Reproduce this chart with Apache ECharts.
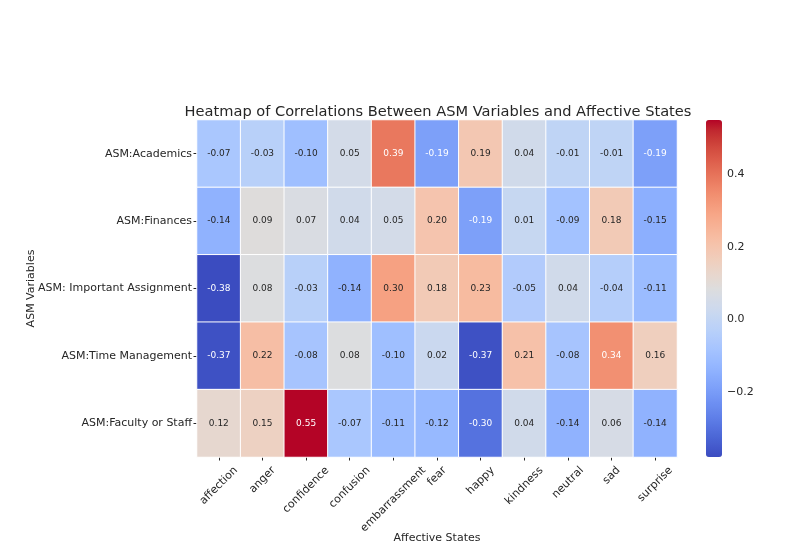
<!DOCTYPE html>
<html><head><meta charset="utf-8">
<script src="https://cdn.jsdelivr.net/npm/echarts@6/dist/echarts.min.js"></script>
<style>html,body{margin:0;padding:0;background:#fff}#c{width:789px;height:547px}</style>
</head><body><div id="c"></div>
<script>
const states = ['affection','anger','confidence','confusion','embarrassment','fear','happy','kindness','neutral','sad','surprise'];
const variables = ['ASM:Academics','ASM:Finances','ASM: Important Assignment','ASM:Time Management','ASM:Faculty or Staff'];
const academics  = [-0.07,-0.03,-0.10,0.05,0.39,-0.19,0.19,0.04,-0.01,-0.01,-0.19];
const finances   = [-0.14,0.09,0.07,0.04,0.05,0.20,-0.19,0.01,-0.09,0.18,-0.15];
const assignment = [-0.38,0.08,-0.03,-0.14,0.30,0.18,0.23,-0.05,0.04,-0.04,-0.11];
const timeMgmt   = [-0.37,0.22,-0.08,0.08,-0.10,0.02,-0.37,0.21,-0.08,0.34,0.16];
const faculty    = [0.12,0.15,0.55,-0.07,-0.11,-0.12,-0.30,0.04,-0.14,0.06,-0.14];
const colorbarTicks = [-0.2, 0.0, 0.2, 0.4];
const vmin = -0.38, vmax = 0.55;

const rows = [academics, finances, assignment, timeMgmt, faculty];
const data = [];
rows.forEach((r, yi) => r.forEach((v, xi) => data.push([xi, yi, v])));

const coolwarm = [[59,76,192],[68,90,204],[77,104,215],[87,117,225],[98,130,234],[108,142,241],[119,154,247],[130,165,251],[141,176,254],[152,185,255],[163,194,255],[174,201,253],[184,208,249],[194,213,244],[204,217,238],[213,219,230],[221,221,221],[229,216,209],[236,211,197],[241,204,185],[245,196,173],[247,187,160],[247,177,148],[247,166,135],[244,154,123],[241,141,111],[236,127,99],[229,112,88],[222,96,77],[213,80,66],[203,62,56],[192,40,47],[180,4,38]].map(c => 'rgb(' + c.join(',') + ')');

const font = 'DejaVu Sans';
const txt = '#262626';
const labelSize = 11;

// matplotlib-style rotated labels (rotation 45, ha=center): shift each label so its
// rotated bounding box is centred under its tick.
const cv = document.createElement('canvas').getContext('2d');
cv.font = labelSize + 'px "' + font + '"';
const margin = 2, lineH = 13, topPad = 7 - margin;
const xRich = {};
states.forEach((s, i) => {
  const w = cv.measureText(s).width;
  const D = topPad + (w + lineH) * 0.3536;
  const p = D * 1.4142;
  xRich['l' + i] = {padding: [p, p, 0, 0], fontFamily: font, fontSize: labelSize, color: txt};
});

const chart = echarts.init(document.getElementById('c'));
chart.setOption({
  backgroundColor: '#fff',
  animation: false,
  title: {
    text: 'Heatmap of Correlations Between ASM Variables and Affective States',
    left: 433, top: 100, textAlign: 'center',
    textStyle: {fontFamily: font, fontSize: 14.6, fontWeight: 'normal', color: txt}
  },
  grid: [
    {left: 197, right: 112, top: 120, bottom: 90, outerBoundsMode: 'none', containLabel: false},
    {left: 706, width: 16, top: 120, bottom: 90, outerBoundsMode: 'none', containLabel: false}
  ],
  xAxis: [{
    type: 'category', data: states, gridIndex: 0,
    axisLine: {show: false},
    axisTick: {show: true, alignWithLabel: true, length: 3.5, lineStyle: {color: txt}},
    axisLabel: {rotate: 45, align: 'center', verticalAlign: 'middle', margin: margin, interval: 0,
      fontFamily: font, fontSize: labelSize, color: txt,
      formatter: (v, i) => '{l' + i + '|' + v + '}', rich: xRich},
    splitLine: {show: false},
    name: 'Affective States', nameLocation: 'middle', nameGap: 76, nameMoveOverlap: false,
    nameTextStyle: {fontFamily: font, fontSize: 11, color: txt}
  }, {
    type: 'value', gridIndex: 1, show: false, min: 0, max: 1
  }],
  yAxis: [{
    type: 'category', data: variables, gridIndex: 0, inverse: true,
    axisLine: {show: false},
    axisTick: {show: true, alignWithLabel: true, length: 3.5, lineStyle: {color: txt}},
    axisLabel: {fontFamily: font, fontSize: 11, color: txt, margin: 5},
    name: 'ASM Variables', nameLocation: 'middle', nameGap: 160, nameMoveOverlap: false,
    nameTextStyle: {fontFamily: font, fontSize: 11, color: txt}
  }, {
    type: 'value', gridIndex: 1, position: 'right', min: vmin, max: vmax,
    axisLine: {show: false},
    splitLine: {show: false},
    axisTick: {show: true, length: 3.5, lineStyle: {color: txt}, customValues: colorbarTicks},
    axisLabel: {fontFamily: font, fontSize: 11, color: txt, margin: 5, customValues: colorbarTicks,
      formatter: v => v.toFixed(1).replace('-', '\u2212')}
  }],
  visualMap: {
    type: 'continuous', min: vmin, max: vmax, seriesIndex: 0,
    calculable: false, realtime: false,
    orient: 'vertical', left: 706, top: 120, itemWidth: 16, itemHeight: 337,
    padding: 0, text: ['', ''], showLabel: false,
    inRange: {color: coolwarm}
  },
  series: [{
    type: 'heatmap', xAxisIndex: 0, yAxisIndex: 0, data: data,
    itemStyle: {borderColor: '#fff', borderWidth: 1},
    label: {
      show: true,
      formatter: p => {
        const v = p.value[2];
        const s = v.toFixed(2);
        return (v <= -0.19 || v >= 0.34) ? '{w|' + s + '}' : '{d|' + s + '}';
      },
      rich: {
        w: {color: '#fff', fontFamily: font, fontSize: 9},
        d: {color: txt, fontFamily: font, fontSize: 9}
      }
    },
    emphasis: {disabled: true}
  }, {
    type: 'scatter', xAxisIndex: 1, yAxisIndex: 1, data: [], silent: true
  }]
});
</script></body></html>
